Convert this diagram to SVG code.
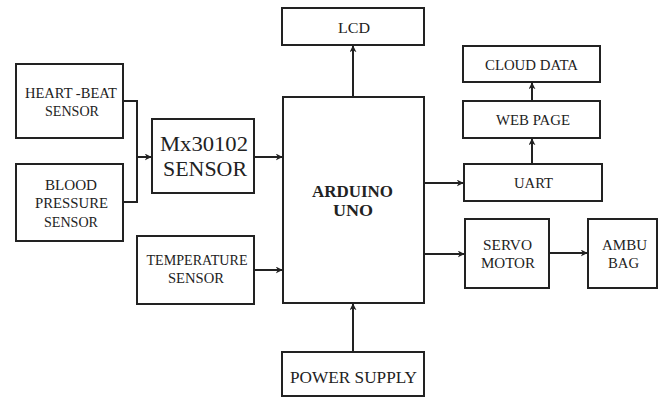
<svg xmlns="http://www.w3.org/2000/svg" width="662" height="399" viewBox="0 0 662 399" font-family="'Liberation Serif', 'Times New Roman', 'DejaVu Serif', serif">
<defs>
<marker id="ah" viewBox="0 0 10 10" refX="9" refY="5" markerWidth="7" markerHeight="7" markerUnits="userSpaceOnUse" orient="auto">
<path d="M0,0 L10,5 L0,10 L3,5 Z" fill="#222"/>
</marker>
<style>
rect{fill:#fff;stroke:#222;stroke-width:2}
text{font-family:'Liberation Serif','Times New Roman','DejaVu Serif',serif;fill:#222;text-anchor:middle;font-size:15px}
.big{font-size:22px}
.b{font-weight:bold;font-size:16px}
.p{font-size:17px}
.c line,.c path{stroke:#222;stroke-width:2;fill:none}
</style>
</defs>
<rect x="0" y="0" width="662" height="399" style="fill:#fff;stroke:none"/>
<g id="heartbeat"><rect x="16" y="64" width="107" height="74"/>
<text x="71" y="98" textLength="92" lengthAdjust="spacingAndGlyphs">HEART -BEAT</text>
<text x="72" y="116" textLength="54" lengthAdjust="spacingAndGlyphs">SENSOR</text></g>
<g id="blood"><rect x="16" y="164" width="107" height="77"/>
<text x="71" y="190" textLength="52" lengthAdjust="spacingAndGlyphs">BLOOD</text>
<text x="71.5" y="208" textLength="73" lengthAdjust="spacingAndGlyphs">PRESSURE</text>
<text x="71" y="227" textLength="54" lengthAdjust="spacingAndGlyphs">SENSOR</text></g>
<g id="mx"><rect x="152" y="119" width="102" height="74"/>
<text class="big" x="204" y="151" textLength="88" lengthAdjust="spacingAndGlyphs">Mx30102</text>
<text class="big" x="205" y="176" textLength="84" lengthAdjust="spacingAndGlyphs">SENSOR</text></g>
<g id="temp"><rect x="137" y="236" width="117" height="68"/>
<text x="197" y="265" textLength="101" lengthAdjust="spacingAndGlyphs">TEMPERATURE</text>
<text x="196" y="283" textLength="56" lengthAdjust="spacingAndGlyphs">SENSOR</text></g>
<g id="arduino"><rect x="283" y="97" width="141" height="206"/>
<text class="b" x="352.5" y="197" textLength="81" lengthAdjust="spacingAndGlyphs">ARDUINO</text>
<text class="b" x="353" y="216" textLength="40" lengthAdjust="spacingAndGlyphs">UNO</text></g>
<g id="lcd"><rect x="282" y="8" width="142" height="37"/>
<text x="354" y="33" textLength="32" lengthAdjust="spacingAndGlyphs">LCD</text></g>
<g id="power"><rect x="282" y="352" width="142" height="44"/>
<text class="p" x="353.5" y="383" textLength="127" lengthAdjust="spacingAndGlyphs">POWER SUPPLY</text></g>
<g id="cloud"><rect x="463" y="46" width="137" height="36"/>
<text x="531.5" y="70" textLength="93" lengthAdjust="spacingAndGlyphs">CLOUD DATA</text></g>
<g id="web"><rect x="463" y="101" width="137" height="37"/>
<text x="533" y="125" textLength="74" lengthAdjust="spacingAndGlyphs">WEB PAGE</text></g>
<g id="uart"><rect x="464" y="164" width="138" height="37"/>
<text x="533.5" y="188" textLength="39" lengthAdjust="spacingAndGlyphs">UART</text></g>
<g id="servo"><rect x="465" y="219" width="84" height="69"/>
<text x="507.5" y="250" textLength="49" lengthAdjust="spacingAndGlyphs">SERVO</text>
<text x="508" y="268" textLength="54" lengthAdjust="spacingAndGlyphs">MOTOR</text></g>
<g id="ambu"><rect x="588" y="219" width="69" height="69"/>
<text x="624.5" y="250" textLength="45" lengthAdjust="spacingAndGlyphs">AMBU</text>
<text x="623.5" y="268" textLength="31" lengthAdjust="spacingAndGlyphs">BAG</text></g>
<g id="connectors" class="c">
<path d="M123,101 H137 V202 H123"/>
<line x1="137" y1="157" x2="151" y2="157" marker-end="url(#ah)"/>
<line x1="254" y1="157" x2="282" y2="157" marker-end="url(#ah)"/>
<line x1="254" y1="270" x2="282" y2="270" marker-end="url(#ah)"/>
<line x1="353" y1="97" x2="353" y2="46" marker-end="url(#ah)"/>
<line x1="353" y1="352" x2="353" y2="304" marker-end="url(#ah)"/>
<line x1="424" y1="183" x2="463" y2="183" marker-end="url(#ah)"/>
<line x1="424" y1="254" x2="464" y2="254" marker-end="url(#ah)"/>
<line x1="549" y1="253" x2="587" y2="253" marker-end="url(#ah)"/>
<line x1="532" y1="164" x2="532" y2="139" marker-end="url(#ah)"/>
<line x1="532" y1="101" x2="532" y2="83" marker-end="url(#ah)"/>
</g>
</svg>
